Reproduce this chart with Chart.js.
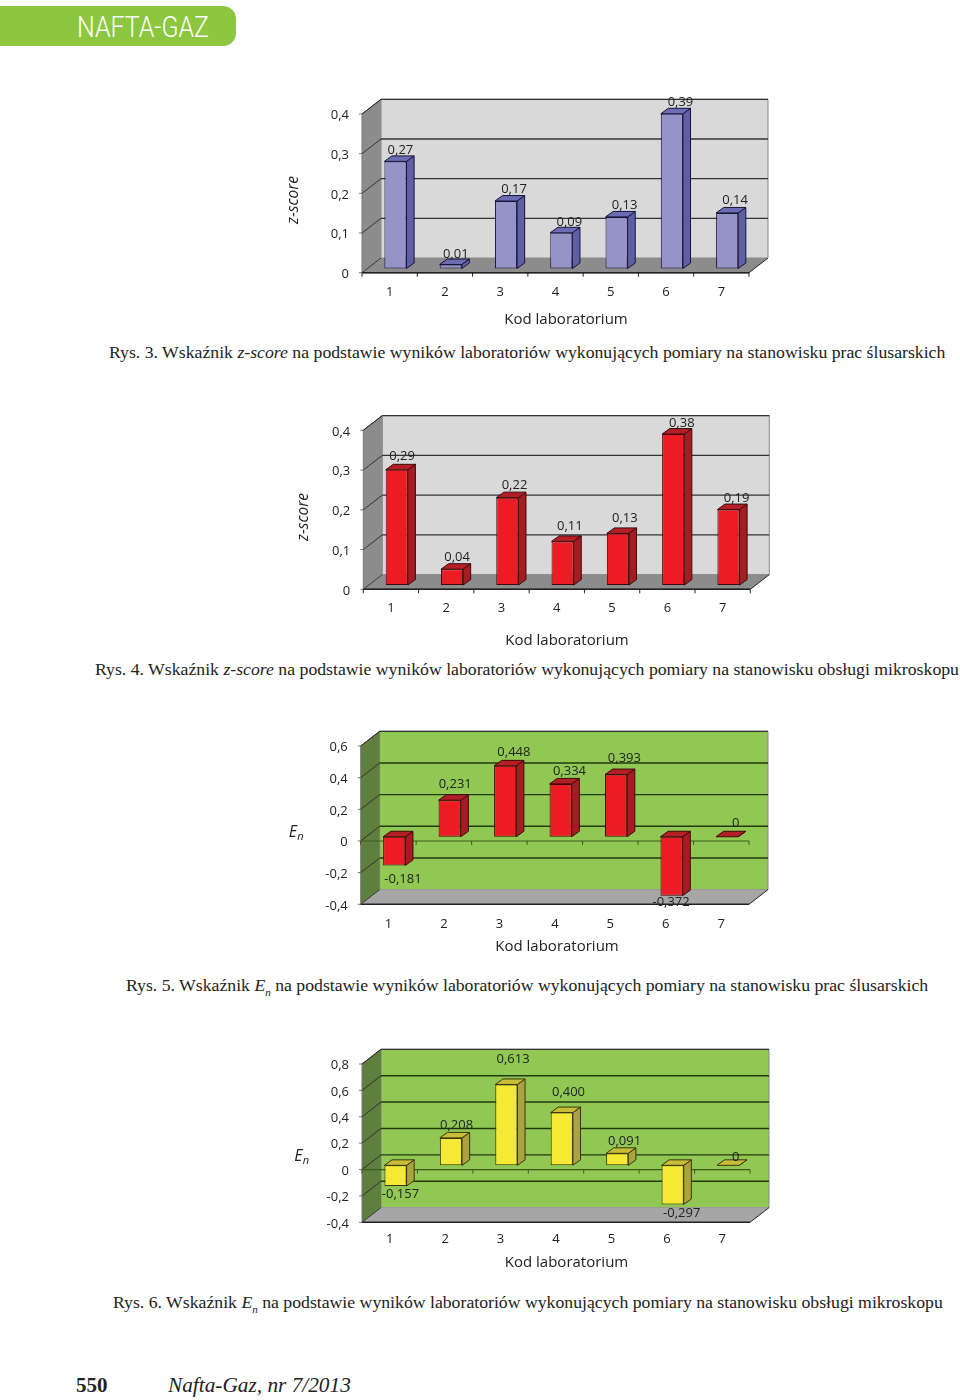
<!DOCTYPE html>
<html>
<head>
<meta charset="utf-8">
<script src="https://cdn.jsdelivr.net/npm/chart.js@4"></script>
<style>
html, body { margin: 0; padding: 0; background: #fff; }
#page { position: relative; width: 960px; height: 1400px; overflow: hidden; }
#page canvas { position: absolute; left: 270px; }
#tab { position: absolute; left: 0; top: 6px; width: 236px; height: 40px; background: #8dc63f; border-radius: 0 13px 13px 0; }
#tab span { position: absolute; left: 77px; top: 3px; color: #fff; font: 300 29px Roboto; line-height: 36px; transform: scaleX(0.86); transform-origin: left center; white-space: nowrap; }
.cap { position: absolute; font: 17.73px "Liberation Serif"; line-height: 20px; color: #222; white-space: nowrap; }
.cap sub { font-size: 11px; line-height: 0; }
#pageno { position: absolute; left: 76px; top: 1373px; font: bold 21px "Liberation Serif"; color: #222; }
#journal { position: absolute; left: 168px; top: 1373px; font: italic 21.3px "Liberation Serif"; color: #222; }
</style>
</head>
<body>
<div id="page">
  <div id="tab"><span>NAFTA-GAZ</span></div>
  <canvas id="c1" width="510" height="250" style="top:85px"></canvas>
  <div class="cap" style="left:109px;top:342px">Rys. 3. Wskaźnik <i>z-score</i> na podstawie wyników laboratoriów wykonujących pomiary na stanowisku prac ślusarskich</div>
  <canvas id="c2" width="510" height="250" style="top:400px"></canvas>
  <div class="cap" style="left:95px;top:659px">Rys. 4. Wskaźnik <i>z-score</i> na podstawie wyników laboratoriów wykonujących pomiary na stanowisku obsługi mikroskopu</div>
  <canvas id="c3" width="510" height="250" style="top:720px"></canvas>
  <div class="cap" style="left:126px;top:975px">Rys. 5. Wskaźnik <i>E<sub>n</sub></i> na podstawie wyników laboratoriów wykonujących pomiary na stanowisku prac ślusarskich</div>
  <canvas id="c4" width="510" height="250" style="top:1040px"></canvas>
  <div class="cap" style="left:113px;top:1292px">Rys. 6. Wskaźnik <i>E<sub>n</sub></i> na podstawie wyników laboratoriów wykonujących pomiary na stanowisku obsługi mikroskopu</div>
  <div id="pageno">550</div>
  <div id="journal">Nafta-Gaz, nr 7/2013</div>
</div>
<script>
const labCodes = ['1', '2', '3', '4', '5', '6', '7'];
const zScoreFitting = [0.27, 0.01, 0.17, 0.09, 0.13, 0.39, 0.14];
const zScoreMicroscope = [0.29, 0.04, 0.22, 0.11, 0.13, 0.38, 0.19];
const enFitting = [-0.181, 0.231, 0.448, 0.334, 0.393, -0.372, 0];
const enMicroscope = [-0.157, 0.208, 0.613, 0.400, 0.091, -0.297, 0];

const FONT = '"Open Sans"';
const TEXT = '#222';

// comma decimals, as in the paper (ticks can come back as 5e-17 instead of 0)
const comma = (v, d) => Math.abs(v) < 1e-9 ? '0' : v.toFixed(d).replace('.', ',');

const poly = (ctx, pts, fill, stroke) => {
    ctx.beginPath();
    pts.forEach((p, i) => i ? ctx.lineTo(p[0], p[1]) : ctx.moveTo(p[0], p[1]));
    ctx.closePath();
    ctx.fillStyle = fill;
    ctx.fill();
    if (stroke) {
        ctx.lineWidth = 1;
        ctx.strokeStyle = stroke;
        ctx.stroke();
    }
};

const line = (ctx, x1, y1, x2, y2, color, w) => {
    ctx.beginPath();
    ctx.moveTo(x1, y1);
    ctx.lineTo(x2, y2);
    ctx.strokeStyle = color;
    ctx.lineWidth = w || 1;
    ctx.stroke();
};

// fake 3d: walls behind the chart area, sides and tops on the bars
const box3d = (o) => ({
    id: 'box3d',
    beforeDatasetsDraw(chart) {
        const ctx = chart.ctx;
        const { left, right, top, bottom } = chart.chartArea;
        const x = chart.scales.x, y = chart.scales.y;
        const wx = 19, wy = 14.7;

        poly(ctx, [[left + wx, top - wy], [right + wx, top - wy], [right + wx, bottom - wy], [left + wx, bottom - wy]], o.wall, '#888');
        poly(ctx, [[left, top], [left + wx, top - wy], [left + wx, bottom - wy], [left, bottom]], o.side);
        poly(ctx, [[left, bottom], [left + wx, bottom - wy], [right + wx, bottom - wy], [right, bottom]], o.floor);
        line(ctx, left + wx, top - wy, right + wx, top - wy, '#333', 1.2);
        line(ctx, left, bottom, right, bottom, '#222', 1.4);
        line(ctx, right, bottom, right + wx, bottom - wy, '#222');
        line(ctx, left, top, left, bottom, '#777');

        y.ticks.forEach((t) => {
            const py = y.getPixelForValue(t.value);
            line(ctx, left - 3, py, left, py, '#777');
            line(ctx, left, py, left + wx, py - wy, '#333');
            if (t.value !== y.min && t.value !== y.max) {
                line(ctx, left + wx, py - wy, right + wx, py - wy, o.grid, 1.4);
            }
        });
        line(ctx, left, top, left + wx, top - wy, '#333');

        const axisY = y.getPixelForValue(Math.max(y.min, 0));
        line(ctx, left, axisY, right, axisY, o.axis, 1.2);
        const band = (right - left) / labCodes.length;
        labCodes.forEach((c, i) => {
            const tx = x.getPixelForTick(i) - band / 2;
            line(ctx, tx, axisY, tx, axisY + 4, o.axis);
        });
        line(ctx, right, axisY, right, axisY + 4, o.axis);

        // bars stand a little way back from the front plane
        ctx.save();
        ctx.translate(5.8, -4.2);
        const d = 7.6, e = 5.5;
        chart.getDatasetMeta(0).data.forEach((bar) => {
            const x1 = bar.x - bar.width / 2, x2 = bar.x + bar.width / 2;
            const yTop = Math.min(bar.y, bar.base), yBot = Math.max(bar.y, bar.base);
            poly(ctx, [[x2, yTop], [x2 + d, yTop - e], [x2 + d, yBot - e], [x2, yBot]], o.barSide, o.barEdge);
            poly(ctx, [[x1, yTop], [x1 + d, yTop - e], [x2 + d, yTop - e], [x2, yTop]], o.barTop, o.barEdge);
        });
    },
    afterDatasetsDraw(chart) {
        const ctx = chart.ctx;
        const values = chart.data.datasets[0].data;
        ctx.font = '13px ' + FONT;
        ctx.fillStyle = TEXT;
        ctx.textAlign = 'center';
        ctx.textBaseline = 'middle';
        chart.getDatasetMeta(0).data.forEach((bar, i) => {
            ctx.fillText(comma(values[i], o.decimals[i]), bar.x + o.labelDx[i], bar.y + o.labelDy[i]);
        });
        ctx.restore();

        // axis names
        ctx.save();
        ctx.fillStyle = TEXT;
        ctx.textAlign = 'center';
        ctx.textBaseline = 'middle';
        ctx.font = '15px ' + FONT;
        ctx.fillText('Kod laboratorium', o.xName[0], o.xName[1]);
        if (o.yRotated) {
            ctx.translate(o.yName[0], o.yName[1]);
            ctx.rotate(-Math.PI / 2);
            ctx.font = 'italic 15.5px ' + FONT;
            ctx.fillText('z-score', 0, 0);
        } else {
            ctx.font = 'italic 16px ' + FONT;
            ctx.fillText('E', o.yName[0] - 3, o.yName[1]);
            ctx.font = 'italic 11px ' + FONT;
            ctx.fillText('n', o.yName[0] + 4.5, o.yName[1] + 5);
        }
        ctx.restore();
    }
});

const makeChart = (id, values, o) => {
    new Chart(document.getElementById(id), {
        type: 'bar',
        data: {
            labels: labCodes,
            datasets: [{
                data: values,
                backgroundColor: o.barFront,
                borderColor: o.barEdge,
                borderWidth: 1,
                borderSkipped: false,
                barPercentage: 0.4,
                categoryPercentage: 1,
                clip: false
            }]
        },
        options: {
            responsive: false,
            animation: false,
            events: [],
            layout: { padding: { top: o.top, right: 510 - o.right, left: 0, bottom: 0 } },
            plugins: { legend: { display: false }, tooltip: { enabled: false } },
            scales: {
                x: {
                    afterFit: (s) => { s.height = 250 - o.bottom; },
                    grid: { display: false, drawTicks: false },
                    border: { display: false },
                    ticks: { padding: o.xPad, color: TEXT, font: { family: FONT, size: 13 }, maxRotation: 0 }
                },
                y: {
                    min: o.min,
                    max: o.max,
                    afterFit: (s) => { s.width = o.left; },
                    grid: { display: false, drawTicks: false },
                    border: { display: false },
                    ticks: {
                        stepSize: o.step,
                        padding: 13,
                        labelOffset: 1.5,
                        color: TEXT,
                        font: { family: FONT, size: 13 },
                        callback: (v) => comma(v, 1)
                    }
                }
            }
        },
        plugins: [box3d(o)]
    });
};

const greyWalls = { wall: '#d9d9d9', side: '#8c8c8c', floor: '#8c8c8c', grid: '#333', axis: '#222', yRotated: true };
const greenWalls = { wall: '#90c853', side: '#5f7f3e', floor: '#a6a6a6', grid: '#24380f', axis: '#3a5a20', yRotated: false };
const blueBars = { barFront: '#9494c8', barSide: '#5f5fa5', barTop: '#6c6cb4', barEdge: '#141438' };
const redBars = { barFront: '#ed1c24', barSide: '#a51d22', barTop: '#b41f25', barEdge: '#3c0a0c' };
const yellowBars = { barFront: '#f5e935', barSide: '#aca23e', barTop: '#c9bd38', barEdge: '#3a3510' };

makeChart('c1', zScoreFitting, Object.assign({}, greyWalls, blueBars, {
    left: 92, right: 479, top: 29, bottom: 187.7, min: 0, max: 0.4, step: 0.1, xPad: 12,
    decimals: [2, 2, 2, 2, 2, 2, 2],
    labelDx: [5, 5, 8, 8, 8, 8.6, 8],
    labelDy: [-11.3, -10, -12, -10.6, -11.7, -11.6, -12.8],
    xName: [296, 235], yName: [24, 115]
}));

makeChart('c2', zScoreMicroscope, Object.assign({}, greyWalls, redBars, {
    left: 93.3, right: 480.3, top: 30.3, bottom: 189.3, min: 0, max: 0.4, step: 0.1, xPad: 11,
    decimals: [2, 2, 2, 2, 2, 2, 2],
    labelDx: [5.4, 5, 7.2, 7.3, 7, 8.6, 8.2],
    labelDy: [-14, -12, -12.6, -15, -15, -11, -11.5],
    xName: [297, 241], yName: [34, 117]
}));

makeChart('c3', enFitting, Object.assign({}, greenWalls, redBars, {
    left: 90.7, right: 479, top: 26, bottom: 184.3, min: -0.4, max: 0.6, step: 0.2, xPad: 12,
    decimals: [3, 3, 3, 3, 3, 3, 3],
    labelDx: [8.7, 5.5, 8.7, 8.8, 8.3, -0.5, 8.7],
    labelDy: [13.6, -16, -14, -13, -15.8, 6.4, -13.7],
    xName: [287, 227], yName: [26, 112]
}));

makeChart('c4', enMicroscope, Object.assign({}, greenWalls, yellowBars, {
    left: 92, right: 480, top: 24, bottom: 182.3, min: -0.4, max: 0.8, step: 0.2, xPad: 9,
    decimals: [3, 3, 3, 3, 3, 3, 3],
    labelDx: [5, 5.6, 6.7, 6.7, 7.3, 9.1, 7.7],
    labelDy: [8.3, -12.9, -25, -19.8, -12.3, 8.5, -7.6],
    xName: [296.5, 223], yName: [31.5, 116]
}));
</script>
</body>
</html>
